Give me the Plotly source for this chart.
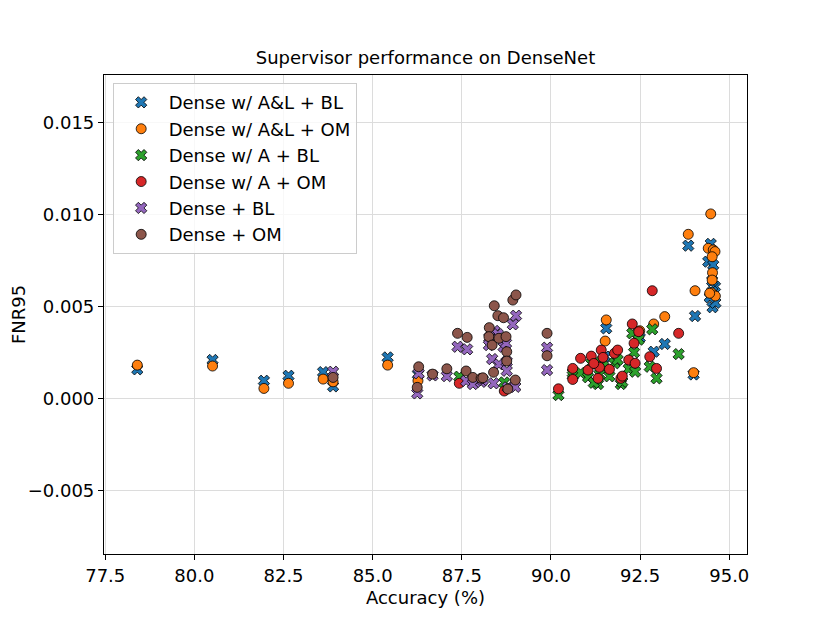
import plotly.graph_objects as go

# Dense w/ A&L : accuracy, FNR95 with BL and with OM
acc_al = [78.40, 80.51, 81.95, 82.64, 83.61, 83.89, 85.42, 86.27, 91.55, 91.52,
          92.88, 93.19, 94.04, 94.00, 93.85, 94.48, 94.41, 94.55, 94.60, 94.52,
          94.53, 94.52, 94.50, 94.61, 94.45, 92.49]
fnr_al_bl = [0.00158, 0.00209, 0.00096, 0.00123, 0.00143, 0.00065, 0.00223, 0.00130, 0.00381, 0.00227,
             0.00254, 0.00296, 0.00448, 0.00130, 0.00831, 0.00841, 0.00744, 0.00726, 0.00608, 0.00640,
             0.00496, 0.00580, 0.00560, 0.00520, 0.00550, 0.00330]
fnr_al_om = [0.00181, 0.00176, 0.00054, 0.00082, 0.00105, 0.00090, 0.00181, 0.00096, 0.00427, 0.00312,
             0.00405, 0.00445, 0.00586, 0.00140, 0.00893, 0.01004, 0.00817, 0.00808, 0.00799, 0.00771,
             0.00684, 0.00644, 0.00575, 0.00557, 0.00572, 0.00368]

# Dense w/ A
acc_a = [87.43, 88.69, 90.21, 90.61, 90.61, 90.83, 91.04, 91.13, 91.32, 91.36,
         91.41, 91.46, 91.64, 91.78, 91.87, 91.96, 92.00, 92.18, 92.28, 92.33,
         92.36, 92.46, 92.77, 92.84, 92.96, 93.58, 91.20]
fnr_a_bl = [0.00118, 0.00087, 0.00018, 0.00139, 0.00125, 0.00139, 0.00115, 0.00190, 0.00078, 0.00130,
            0.00200, 0.00175, 0.00120, 0.00191, 0.00210, 0.00078, 0.00090, 0.00160, 0.00354, 0.00250,
            0.00145, 0.00320, 0.00172, 0.00376, 0.00109, 0.00241, 0.00085]
fnr_a_om = [0.00082, 0.00040, 0.00052, 0.00163, 0.00103, 0.00218, 0.00154, 0.00230, 0.00109, 0.00169,
            0.00263, 0.00223, 0.00158, 0.00245, 0.00263, 0.00109, 0.00121, 0.00209, 0.00405, 0.00300,
            0.00191, 0.00363, 0.00227, 0.00586, 0.00163, 0.00354, 0.00190]

# Dense (plain)
acc_d = [83.89, 86.29, 86.25, 86.68, 87.08, 87.38, 87.65, 87.62, 87.81, 88.04,
         88.09, 88.27, 88.26, 88.35, 88.39, 88.41, 88.51, 88.54, 88.67, 88.74,
         88.76, 88.76, 88.79, 88.93, 89.02, 89.00, 89.89, 89.89]
fnr_d_bl = [0.00145, 0.00136, 0.00027, 0.00125, 0.00121, 0.00281, 0.00267, 0.00095, 0.00078, 0.00090,
            0.00100, 0.00330, 0.00290, 0.00214, 0.00082, 0.00367, 0.00350, 0.00185, 0.00281, 0.00300,
            0.00200, 0.00150, 0.00060, 0.00403, 0.00450, 0.00063, 0.00276, 0.00154]
fnr_d_om = [0.00114, 0.00172, 0.00060, 0.00132, 0.00161, 0.00354, 0.00332, 0.00149, 0.00114, 0.00109,
            0.00112, 0.00385, 0.00336, 0.00290, 0.00142, 0.00504, 0.00450, 0.00327, 0.00439, 0.00336,
            0.00254, 0.00203, 0.00051, 0.00535, 0.00563, 0.00100, 0.00354, 0.00232]

series = [
    ("Dense w/ A&L + BL", acc_al, fnr_al_bl, "x", "#1f77b4"),
    ("Dense w/ A&L + OM", acc_al, fnr_al_om, "circle", "#ff7f0e"),
    ("Dense w/ A + BL", acc_a, fnr_a_bl, "x", "#2ca02c"),
    ("Dense w/ A + OM", acc_a, fnr_a_om, "circle", "#d62728"),
    ("Dense + BL", acc_d, fnr_d_bl, "x", "#9467bd"),
    ("Dense + OM", acc_d, fnr_d_om, "circle", "#8c564b"),
]

fig = go.Figure()
for i, (name, xs, ys, sym, col) in enumerate(series):
    fig.add_trace(go.Scatter(
        x=xs, y=ys, mode="markers", name=name, legendgroup=str(i),
        marker=dict(symbol=sym, color=col, size=10,
                    line=dict(color="black", width=0.8)),
    ))

# page body has an 8px margin, so the figure is shrunk by 8px and margins shifted
font = "DejaVu Sans, sans-serif"
fig.update_layout(
    width=822, height=615,
    margin=dict(l=96, r=83, t=67, b=69),
    paper_bgcolor="white", plot_bgcolor="white",
    font=dict(family=font, size=18, color="black"),
    title=dict(text="Supervisor performance on DenseNet", x=417.5 / 822, xanchor="center",
               y=1 - 50 / 615, yanchor="middle", font=dict(size=18)),
    showlegend=True,
    legend=dict(x=0.0135, y=0.983, xanchor="left", yanchor="top",
                bgcolor="rgba(255,255,255,0.8)", bordercolor="#cccccc", borderwidth=1,
                font=dict(size=18), tracegroupgap=0, itemwidth=45),
)
axis_common = dict(
    showline=True, linecolor="black", linewidth=1.2, mirror=True,
    ticks="outside", ticklen=5, tickcolor="black", tickwidth=1,
    showgrid=True, gridcolor="#dcdcdc", gridwidth=1, zeroline=False,
    automargin=False,
)
fig.update_xaxes(range=[77.466, 95.497], tick0=77.5, dtick=2.5, tickformat=".1f",
                 title=dict(text="Accuracy (%)", standoff=6, font=dict(size=18)), **axis_common)
fig.update_yaxes(range=[-0.00847, 0.0176], tick0=0, dtick=0.005, tickformat=".3f",
                 title=dict(text="FNR95", standoff=10, font=dict(size=18)), **axis_common)

fig.write_html("out.html")
